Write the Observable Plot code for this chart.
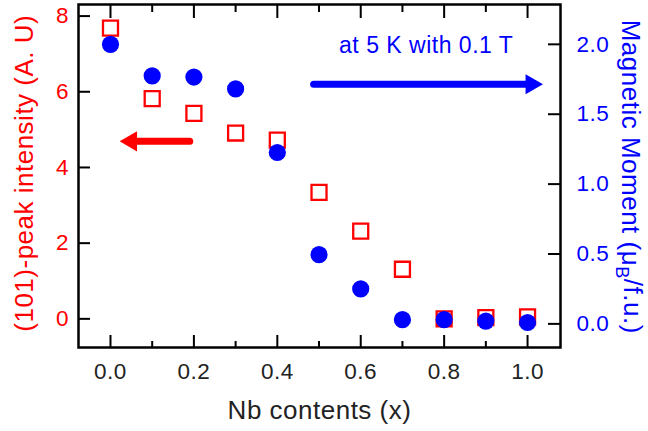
<!DOCTYPE html>
<html><head><meta charset="utf-8">
<script src="https://cdn.jsdelivr.net/npm/d3@7"></script>
<script src="https://cdn.jsdelivr.net/npm/@observablehq/plot@0.6"></script>
<style>
html,body{margin:0;padding:0;background:#fff;}
#chart svg{display:block;}
</style>
</head><body><div id="chart"></div>
<script>
// ---- data ----
const nbContent = [0.0, 0.1, 0.2, 0.3, 0.4, 0.5, 0.6, 0.7, 0.8, 0.9, 1.0];
const peakIntensity = [7.68, 5.82, 5.43, 4.91, 4.72, 3.34, 2.32, 1.31, 0.0, 0.03, 0.05];
const magneticMoment = [2.0, 1.774, 1.766, 1.681, 1.226, 0.495, 0.25, 0.03, 0.03, 0.02, 0.01];
const xTicks = [0.0, 0.2, 0.4, 0.6, 0.8, 1.0];
const xMinorTicks = [0.1, 0.3, 0.5, 0.7, 0.9];
const leftTicks = [0, 2, 4, 6, 8];
const rightTicks = [0.0, 0.5, 1.0, 1.5, 2.0];
const xDomain = [-0.0767, 1.079];
const leftDomain = [-0.757, 8.306];
const rightDomain = [-0.169, 2.285];
const xLabel = "Nb contents (x)";
const leftLabel = "(101)-peak intensity (A. U)";
const rightLabel = "Magnetic Moment (μB/f.u.)";
const annotationText = ["at 5 K with 0.1 T"];
const annotationPos = [0.757, 1.993];       // x, moment
const redArrow = [{tail: 0.19, tip: 0.022, value: 4.69}];
const blueArrow = [{tail: 0.487, tip: 1.037, moment: 1.714}];

// ---- helpers ----
const k = (leftDomain[1] - leftDomain[0]) / (rightDomain[1] - rightDomain[0]);
const toLeft = m => leftDomain[0] + (m - rightDomain[0]) * k;
const fromLeft = v => rightDomain[0] + (v - leftDomain[0]) / k;

const rows = nbContent.map((x, i) => ({x, peak: peakIntensity[i], moment: magneticMoment[i]}));
const RED = "#ff0000", BLUE = "#0000ff", INK = "#222";

const chart = Plot.plot({
  width: 648,
  height: 431,
  marginLeft: 78,
  marginRight: 88,
  marginTop: 4,
  marginBottom: 84,
  x: {domain: xDomain},
  y: {domain: leftDomain},
  style: {fontFamily: "'Liberation Sans', Arial, Helvetica, sans-serif", background: "white", overflow: "visible", letterSpacing: "0.5px"},
  marks: [
    // bottom axis
    Plot.axisX(xTicks, {anchor: "bottom", tickSize: -12, tickPadding: 28, strokeWidth: 2, stroke: "black",
      fontSize: 22.5, fill: INK, tickFormat: d => d.toFixed(1), label: null}),
    Plot.axisX(xMinorTicks, {anchor: "bottom", tickSize: -6, strokeWidth: 2, stroke: "black", tickFormat: () => "", label: null}),
    // top axis (ticks only)
    Plot.axisX(xTicks, {anchor: "top", tickSize: -13, strokeWidth: 2, stroke: "black", tickFormat: () => "", label: null}),
    Plot.axisX(xMinorTicks, {anchor: "top", tickSize: -7, strokeWidth: 2, stroke: "black", tickFormat: () => "", label: null}),
    // left axis
    Plot.axisY(leftTicks, {anchor: "left", tickSize: -12, tickPadding: 21.5, strokeWidth: 2, stroke: "black",
      fontSize: 22.5, fill: RED, tickFormat: d => String(d), label: null}),
    // right axis
    Plot.axisY(rightTicks.map(toLeft), {anchor: "right", tickSize: -13, tickPadding: 29, strokeWidth: 2, stroke: "black",
      fontSize: 22.5, fill: BLUE, tickFormat: d => (Math.round(fromLeft(d) * 10) / 10 + 0).toFixed(1), label: null}),
    Plot.frame({stroke: "black", strokeWidth: 2.5}),
    // data
    Plot.dot(rows, {x: "x", y: "peak", symbol: "square", r: 8.46, stroke: RED, strokeWidth: 2.3, fill: "none"}),
    Plot.dot(rows, {x: "x", y: d => toLeft(d.moment), symbol: "circle", r: 8.6, fill: BLUE, stroke: "none"}),
    // arrows
    Plot.arrow(redArrow, {x1: "tail", x2: "tip", y1: "value", y2: "value", headLength: 0, insetEnd: 15,
      stroke: RED, strokeWidth: 7, strokeLinecap: "round"}),
    Plot.dot(redArrow, {x: "tip", y: "value", symbol: "triangle", r: 7.46, rotate: -90, dx: 11.6, fill: RED, stroke: "none"}),
    Plot.arrow(blueArrow, {x1: "tail", x2: "tip", y1: d => toLeft(d.moment), y2: d => toLeft(d.moment), headLength: 0, insetEnd: 15,
      stroke: BLUE, strokeWidth: 7, strokeLinecap: "round"}),
    Plot.dot(blueArrow, {x: "tip", y: d => toLeft(d.moment), symbol: "triangle", r: 7.46, rotate: 90, dx: -11.6, fill: BLUE, stroke: "none"}),
    // annotation
    Plot.text(annotationText, {x: () => annotationPos[0], y: () => toLeft(annotationPos[1]), text: d => d,
      fill: BLUE, fontSize: 23, textAnchor: "middle", lineAnchor: "middle"}),
    // axis titles
    Plot.text([xLabel], {frameAnchor: "bottom", text: d => d, dy: 63, fontSize: 26, fill: INK,
      textAnchor: "middle", lineAnchor: "middle"}),
    Plot.text([leftLabel], {frameAnchor: "left", text: d => d, rotate: -90, dx: -54.3, dy: -2.75, fontSize: 26, fill: RED,
      textAnchor: "middle", lineAnchor: "middle"}),
    Plot.text([rightLabel], {frameAnchor: "right", text: d => d, rotate: 90, dx: 69.5, dy: 0.75, fontSize: 26, fill: BLUE,
      textAnchor: "middle", lineAnchor: "middle"})
  ]
});

document.getElementById("chart").appendChild(chart);

// subscript B in the right-axis title
d3.select(chart).selectAll("text").filter(function () { return this.textContent === rightLabel; })
  .each(function () {
    const t = d3.select(this);
    t.text(null);
    t.append("tspan").text("Magnetic Moment (μ");
    t.append("tspan").attr("font-size", "0.7em").attr("dy", "0.3em").text("B");
    t.append("tspan").attr("dy", "-0.3em").text("/f.u.)");
  });
</script>
</body></html>
